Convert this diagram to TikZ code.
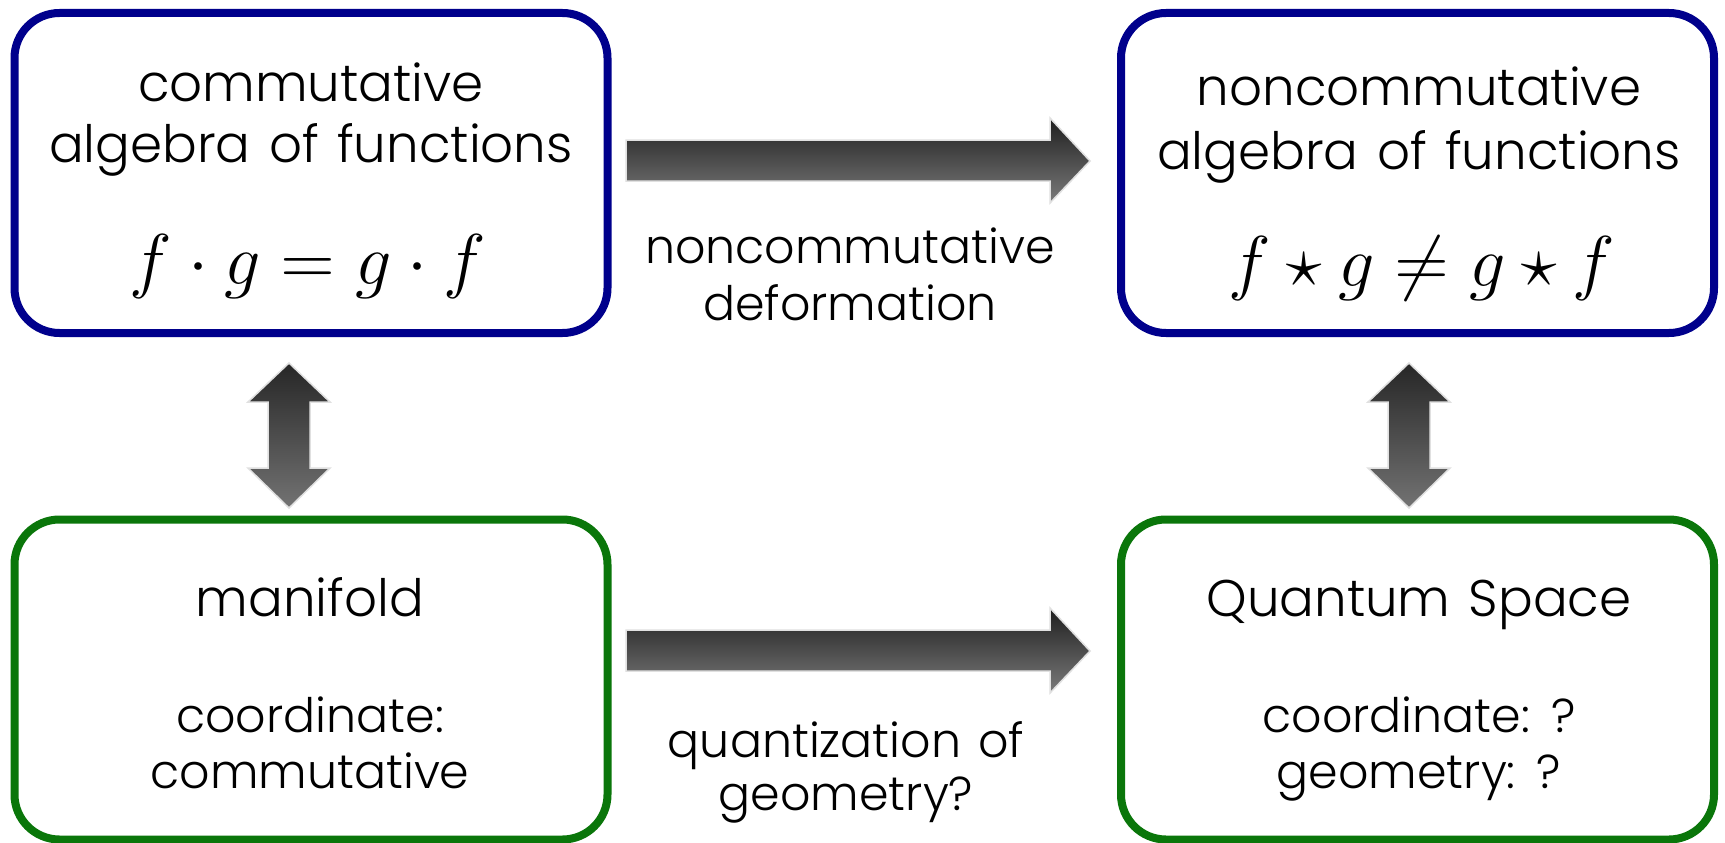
\documentclass[tikz,border=0pt]{standalone}
\usepackage{fontspec}
\setmainfont{Poppins Light}[WordSpace=1.3]
\usetikzlibrary{calc}
\definecolor{boxblue}{RGB}{0,0,140}
\definecolor{boxgreen}{RGB}{10,118,10}
\tikzset{
  frame/.style={draw, line width=8pt, rounded corners=45pt, minimum width=593pt, minimum height=320pt, inner sep=0pt, fill=white},
  bluebox/.style={frame, draw=boxblue},
  greenbox/.style={frame, draw=boxgreen},
  txt/.style={anchor=base, inner sep=0pt, font=\fontsize{47.5}{55}\selectfont},
  bigtxt/.style={anchor=base, inner sep=0pt, font=\fontsize{51.5}{60}\selectfont},
  mth/.style={anchor=base, inner sep=0pt, font=\fontsize{12}{14}\selectfont},
  harrow/.style={draw=black!12, line width=1.5pt, top color=black!88, bottom color=black!52},
  varrow/.style={draw=black!12, line width=1.5pt, top color=black!85, bottom color=black!55},
}
\begin{document}
\begin{tikzpicture}[x=1pt,y=-1pt]
\useasboundingbox[fill=white] (0,0) rectangle (1725,843);
% boxes
\node[bluebox]  (tl) at (311,173) {};
\node[bluebox]  (tr) at (1417.5,173) {};
\node[greenbox] (bl) at (311,679.5) {};
\node[greenbox] (br) at (1417.5,679.5) {};
% texts top-left
\node[bigtxt] (tl1) at (311,101) {commutative};
\node[bigtxt] (tl2) at (311,162) {algebra of functions};
\node[mth] (tl3) at (308,284) {\scalebox{6}{$f\cdot g=g\cdot f$}};
% texts top-right
\node[bigtxt] (tr1) at (1419,106) {noncommutative};
\node[bigtxt] (tr2) at (1419,169) {algebra of functions};
\node[mth] (tr3) at (1422,286) {\scalebox{6}{$f\star g\neq g\star f$}};
% texts bottom-left
\node[bigtxt] (bl1) at (310,616) {manifold};
\node[txt] (bl2) at (310,732) {coordinate:};
\node[txt] (bl3) at (310,788) {commutative};
% texts bottom-right
\node[bigtxt] (br1) at (1419,616) {Quantum Space};
\node[txt] (br2) at (1419,732) {coordinate: ?};
\node[txt] (br3) at (1419,788) {geometry: ?};
% middle labels
\node[txt] (m1) at (850,263) {noncommutative};
\node[txt] (m2) at (850,320) {deformation};
\node[txt] (m3) at (846,757) {quantization of};
\node[txt] (m4) at (846,810) {geometry?};
% horizontal fat arrows
\coordinate (a1) at (626,161);
\shade[harrow] (a1) ++(0,-21) -- ++(424,0) -- ++(0,-22) -- (1090,161) -- (1050,203) -- ++(0,-22) -- ++(-424,0) -- cycle;
\coordinate (a2) at (626,651);
\shade[harrow] (a2) ++(0,-21) -- ++(424,0) -- ++(0,-22) -- (1090,651) -- (1050,693) -- ++(0,-22) -- ++(-424,0) -- cycle;
% vertical double arrows
\coordinate (v1) at (289,363);
\shade[varrow] (v1) -- ++(41,39) -- ++(-20,0) -- ++(0,66) -- ++(20,0) -- ++(-41,40) -- ++(-41,-40) -- ++(20,0) -- ++(0,-66) -- ++(-20,0) -- cycle;
\coordinate (v2) at (1409,363);
\shade[varrow] (v2) -- ++(41,39) -- ++(-20,0) -- ++(0,66) -- ++(20,0) -- ++(-41,40) -- ++(-41,-40) -- ++(20,0) -- ++(0,-66) -- ++(-20,0) -- cycle;
\end{tikzpicture}
\end{document}
